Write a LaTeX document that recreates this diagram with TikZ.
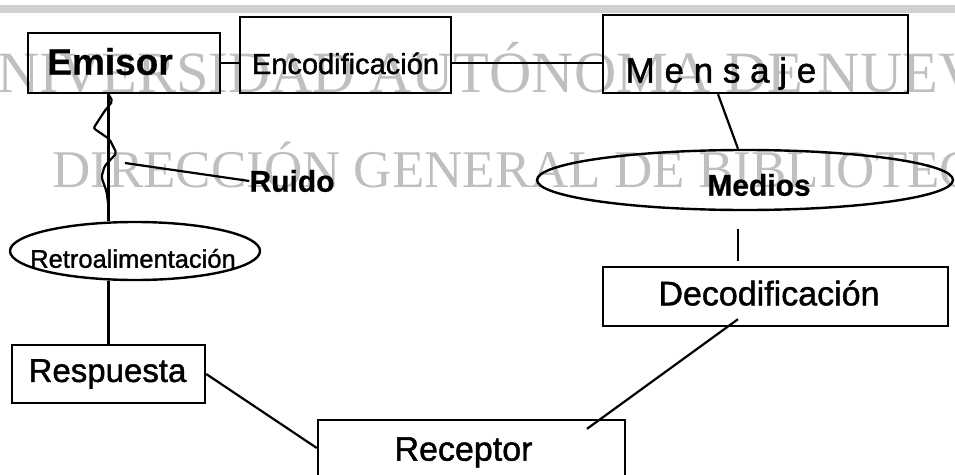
\documentclass[tikz,border=0pt]{standalone}
\usepackage{fontspec}
\setmainfont{Liberation Sans}[FakeBold=1.3]
\newfontfamily\negrita{Liberation Sans Bold}[FakeBold=0.6]
\newfontfamily\serifmarca{Liberation Serif}
\usetikzlibrary{shapes.geometric, calc}

\begin{document}
\begin{tikzpicture}
        [
            x=1pt, y=-1pt,
            caja/.style 2 args={rectangle, draw, line width=2.4pt,
                          minimum width=#1, minimum height=#2, inner sep=0pt},
            ovalo/.style 2 args={ellipse, draw, line width=2.4pt,
                          minimum width=#1, minimum height=#2, inner sep=0pt},
            marca/.style={text=black!25, inner sep=0pt, anchor=base west},
            linea/.style={line width=2.2pt}
        ]
        \useasboundingbox (0,0) rectangle (955,474);
        \clip (0,0) rectangle (955,474);
        \fill [black!18] (0,5) rectangle (955,13);
        % marca de agua
        \node (m1) [marca, font=\serifmarca\fontsize{58.5}{60}\selectfont] at (-45,92)
            {UNIVERSIDAD AUTÓNOMA DE NUEVO LEÓN};
        \node (m2) [marca, font=\serifmarca\fontsize{53}{60}\selectfont] at (52,187)
            {DIRECCIÓN GENERAL DE BIBLIOTECAS};
        % cajas
        \node (emi) [caja={192pt}{60pt}, label={[font=\negrita\fontsize{37}{40}\selectfont,
            xshift=-14pt, yshift=1.5pt]center:Emisor}] at (124,63) {};
        \node (enc) [caja={211pt}{76pt}, label={[font=\fontsize{29}{32}\selectfont,
            yshift=-8.5pt]center:Encodificación}] at (345.5,55) {};
        \node (men) [caja={305pt}{78pt}, label={[font=\fontsize{35}{40}\selectfont,
            xshift=-34.5pt, yshift=-19.5pt]center:M e n s a j e}] at (755.5,54) {};
        \node (med) [ovalo={416pt}{60pt}, label={[font=\negrita\fontsize{30}{34}\selectfont,
            xshift=14pt, yshift=-5pt]center:Medios}] at (745,180) {};
        \node (dec) [caja={345pt}{59pt}, label={[font=\fontsize{34}{38}\selectfont,
            xshift=-6.5pt, yshift=3.5pt]center:Decodificación}] at (775.5,296.5) {};
        \node (rec) [caja={307pt}{90pt}, label={[font=\fontsize{34}{38}\selectfont,
            xshift=-8pt, yshift=12.5pt]center:Receptor}] at (471.5,465) {};
        \node (res) [caja={193pt}{58pt}, label={[font=\fontsize{33}{36}\selectfont,
            xshift=-1pt]center:Respuesta}] at (108.5,374) {};
        \node (ret) [ovalo={250pt}{58pt}, label={[font=\fontsize{25.5}{28}\selectfont,
            xshift=-2pt, yshift=-7.5pt]center:Retroalimentación}] at (135,251) {};
        \node (rui) [inner sep=0pt, font=\negrita\fontsize{30}{34}\selectfont] at (292,181) {Ruido};
        \coordinate (r0) at (125,163);
        % conexiones
        \foreach \i/\j in {emi/enc,enc/men}
            \draw [linea] (emi.east -| \i.east) -- (emi.east -| \j.west);
        \draw [linea] ([xshift=-37.5pt]men.south) -- ([xshift=-7pt]med.north);
        \draw [linea, shorten <=18pt, shorten >=5pt] ([xshift=-7pt]med.south) -- ([xshift=-37.5pt]dec.north);
        \draw [linea] ([xshift=-37.5pt, yshift=8pt]dec.south) -- ([xshift=115.5pt, yshift=-10pt]rec.north);
        \draw [linea] (res.east) -- ([yshift=17pt]rec.west);
        \draw [linea] (ret.south -| res.north) -- (res.north);
        \draw [linea] (emi.south -| res.north) -- (ret.north -| res.north);
        \draw [linea, rounded corners=2pt] (emi.south -| res.north) -- ++(4,7) -- ++(-8,10)
            -- ++(-11,17) -- ++(16,11) -- ++(7,14) -- ++(-12,13) -- ++(-3,11) -- ++(5,14) -- ++(2,15);
        \draw [linea] (r0) -- (rui.west);
    \end{tikzpicture}
\end{document}
